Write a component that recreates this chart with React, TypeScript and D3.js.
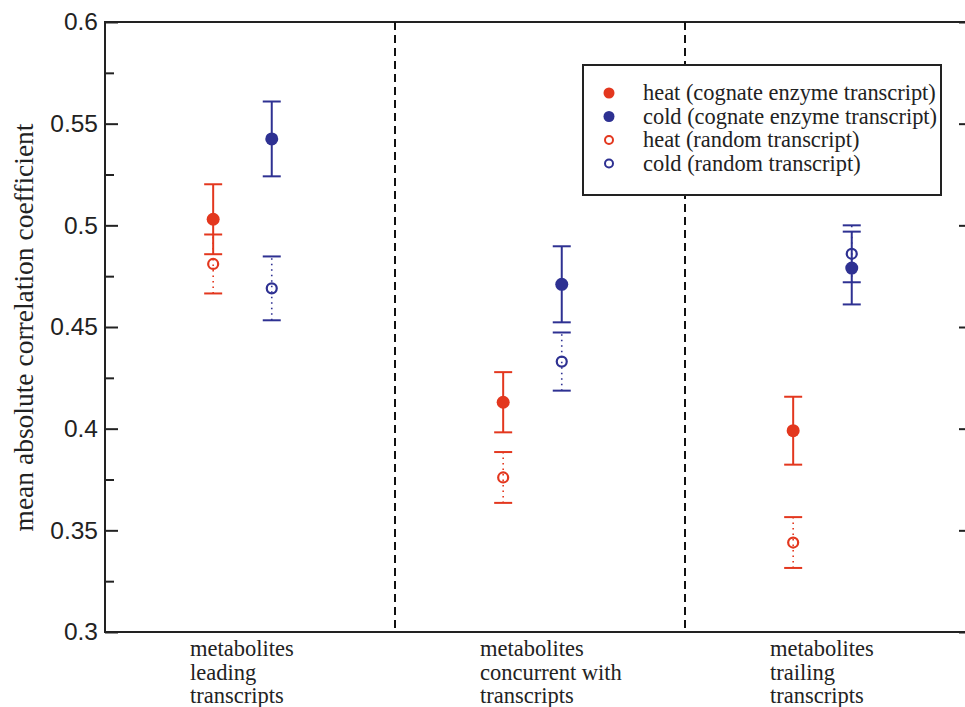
import React, { useRef, useEffect } from "react";
import * as d3 from "d3";

const categories = [
  ["metabolites", "leading", "transcripts"],
  ["metabolites", "concurrent with", "transcripts"],
  ["metabolites", "trailing", "transcripts"],
];

const heatCognate = [0.503, 0.413, 0.399];
const heatCognateErr = [0.0172, 0.0148, 0.0167];
const coldCognate = [0.5425, 0.471, 0.479];
const coldCognateErr = [0.0184, 0.0187, 0.0179];
const heatRandom = [0.481, 0.376, 0.344];
const heatRandomErr = [0.0145, 0.0125, 0.0125];
const coldRandom = [0.469, 0.433, 0.486];
const coldRandomErr = [0.0157, 0.0143, 0.014];

const legendLabels = [
  "heat (cognate enzyme transcript)",
  "cold (cognate enzyme transcript)",
  "heat (random transcript)",
  "cold (random transcript)",
];

const yTicks = [0.3, 0.35, 0.4, 0.45, 0.5, 0.55, 0.6];
const yMinorTicks = [0.325, 0.375, 0.425, 0.475, 0.525, 0.575];

const RED = "#e3371e";
const BLUE = "#2e3192";
const SERIF = "'Liberation Serif', 'Times New Roman', serif";

const App = () => {
  const svgRef = useRef<SVGSVGElement>(null);

  useEffect(() => {
    if (!svgRef.current) return;
    const svg = d3.select(svgRef.current);
    svg.selectAll("*").remove();

    const width = 965;
    const height = 707;
    const left = 105;
    const right = 975;
    const top = 22;
    const bottom = 632;

    const x = d3.scaleLinear([0, 3], [left, right]);
    const y = d3.scaleLinear([0.3, 0.6], [bottom, top]);

    svg.attr("width", width).attr("height", height).attr("viewBox", [0, 0, width, height]);

    // y axis, ticks point inward
    svg
      .append("g")
      .attr("transform", `translate(${left},0)`)
      .call(
        d3
          .axisLeft(y)
          .tickValues(yTicks)
          .tickSize(-13)
          .tickPadding(7)
          .tickFormat((d) => String(d))
      )
      .call((g) => g.select(".domain").remove())
      .call((g) => g.selectAll(".tick line").attr("stroke", "#222").attr("stroke-width", 2))
      .call((g) =>
        g
          .selectAll(".tick text")
          .attr("font-family", "'Liberation Sans', Arial, sans-serif")
          .attr("font-size", 24.5)
          .attr("fill", "#222")
      );

    svg
      .append("g")
      .attr("transform", `translate(${left},0)`)
      .call(d3.axisLeft(y).tickValues(yMinorTicks).tickSize(-9).tickFormat(() => ""))
      .call((g) => g.select(".domain").remove())
      .call((g) => g.selectAll(".tick line").attr("stroke", "#222").attr("stroke-width", 2));

    svg
      .append("g")
      .attr("transform", `translate(${right},0)`)
      .call(d3.axisRight(y).tickValues(yTicks).tickSize(-16).tickFormat(() => ""))
      .call((g) => g.select(".domain").remove())
      .call((g) => g.selectAll(".tick line").attr("stroke", "#222").attr("stroke-width", 2));

    // frame
    svg
      .append("rect")
      .attr("x", left)
      .attr("y", top)
      .attr("width", right - left)
      .attr("height", bottom - top)
      .attr("fill", "none")
      .attr("stroke", "#222")
      .attr("stroke-width", 2);

    // dashed dividers between the three groups
    svg
      .append("g")
      .selectAll("line")
      .data([1, 2])
      .join("line")
      .attr("x1", (d) => x(d))
      .attr("x2", (d) => x(d))
      .attr("y1", top)
      .attr("y2", bottom)
      .attr("stroke", "#111")
      .attr("stroke-width", 2)
      .attr("stroke-dasharray", "8,5");

    // y label
    svg
      .append("text")
      .attr("transform", `translate(33,${(120 + 535) / 2}) rotate(-90)`)
      .attr("text-anchor", "middle")
      .attr("font-family", SERIF)
      .attr("font-size", 27.5)
      .attr("fill", "#222")
      .text("mean absolute correlation coefficient");

    // category labels
    categories.forEach((lines, i) => {
      const t = svg
        .append("text")
        .attr("transform", `translate(${x(i + 0.5) - 60},0)`)
        .attr("font-family", SERIF)
        .attr("font-size", 22.5)
        .attr("fill", "#222");
      t.selectAll("tspan")
        .data(lines)
        .join("tspan")
        .attr("x", 0)
        .attr("y", (_, k) => 656 + k * 23.5)
        .text((d) => d);
    });

    const cap = 9;
    const drawSeries = (
      vals: number[],
      errs: number[],
      offset: number,
      color: string,
      open: boolean
    ) => {
      const g = svg.append("g");
      vals.forEach((v, i) => {
        const cx = x(i + offset);
        const y0 = y(v - errs[i]);
        const y1 = y(v + errs[i]);
        g.append("line")
          .attr("x1", cx)
          .attr("x2", cx)
          .attr("y1", y0)
          .attr("y2", y1)
          .attr("stroke", color)
          .attr("stroke-width", open ? 1.6 : 2)
          .attr("stroke-dasharray", open ? "1.5,4" : null);
        [y0, y1].forEach((yy) =>
          g
            .append("line")
            .attr("x1", cx - cap)
            .attr("x2", cx + cap)
            .attr("y1", yy)
            .attr("y2", yy)
            .attr("stroke", color)
            .attr("stroke-width", 2)
        );
        g.append("circle")
          .attr("cx", cx)
          .attr("cy", y(v))
          .attr("r", open ? 5 : 6.5)
          .attr("fill", open ? "none" : color)
          .attr("stroke", color)
          .attr("stroke-width", open ? 2.2 : 0);
      });
    };

    drawSeries(heatRandom, heatRandomErr, 0.373, RED, true);
    drawSeries(coldRandom, coldRandomErr, 0.575, BLUE, true);
    drawSeries(heatCognate, heatCognateErr, 0.373, RED, false);
    drawSeries(coldCognate, coldCognateErr, 0.575, BLUE, false);

    // legend
    const legend = svg.append("g").attr("transform", "translate(583,65)");
    legend
      .append("rect")
      .attr("width", 358)
      .attr("height", 130)
      .attr("fill", "white")
      .attr("stroke", "#222")
      .attr("stroke-width", 2);
    const legendStyle = [
      { color: RED, open: false },
      { color: BLUE, open: false },
      { color: RED, open: true },
      { color: BLUE, open: true },
    ];
    legendLabels.forEach((label, i) => {
      const ly = 28 + i * 23.5;
      const s = legendStyle[i];
      legend
        .append("circle")
        .attr("cx", 26)
        .attr("cy", ly)
        .attr("r", s.open ? 4 : 5.5)
        .attr("fill", s.open ? "white" : s.color)
        .attr("stroke", s.color)
        .attr("stroke-width", s.open ? 2 : 0);
      legend
        .append("text")
        .attr("x", 60)
        .attr("y", ly + 7)
        .attr("font-family", SERIF)
        .attr("font-size", 22.4)
        .attr("fill", "#222")
        .text(label);
    });
  }, []);

  return (
    <svg
      ref={svgRef}
      style={{ position: "absolute", left: 0, top: 0, background: "white" }}
    ></svg>
  );
};

export default App;
